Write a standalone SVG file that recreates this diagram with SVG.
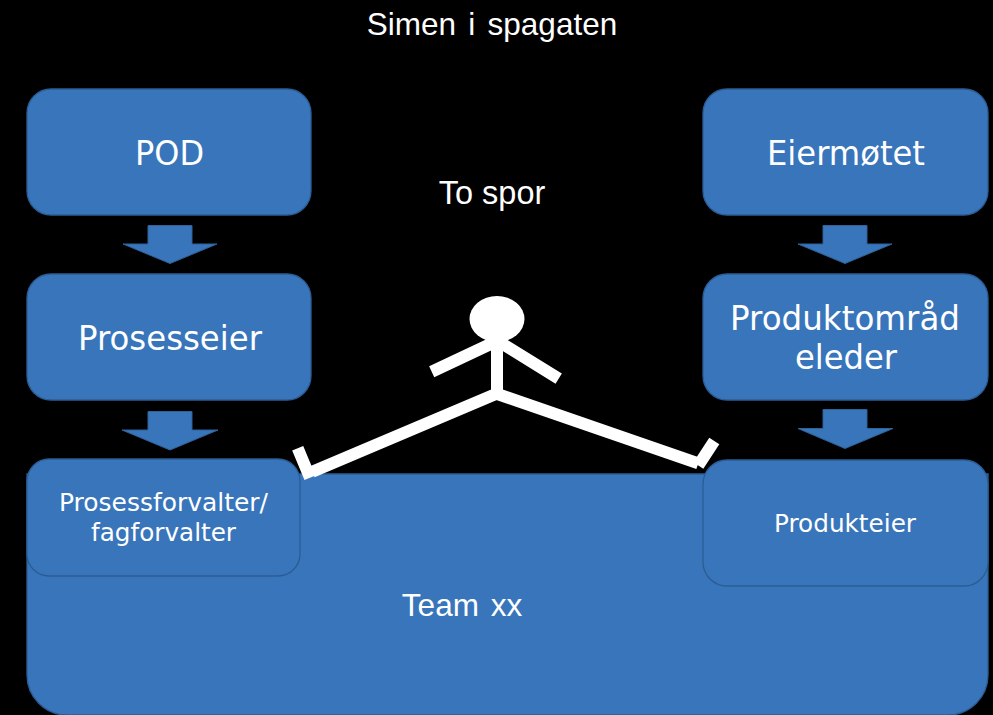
<svg xmlns="http://www.w3.org/2000/svg" width="993" height="715" viewBox="0 0 993 715">
<style>
.b{fill:#3875bb;stroke:#2b5d94;stroke-width:1.3}
.a{fill:#3875bb;stroke:#2f6299;stroke-width:1}
.t{fill:#fff;font-family:"DejaVu Sans",Verdana,sans-serif;text-anchor:middle}
.h{fill:#fff;font-family:"Liberation Sans",Arial,sans-serif;text-anchor:middle}
.s{fill:none;stroke:#fff;stroke-width:12}
</style>
<rect width="993" height="715" fill="#000"/>
<g id="title"><text class="h" x="492" y="34.500" font-size="31.500" word-spacing="3.500">Simen i spagaten</text></g>
<g id="spor"><text class="h" x="492" y="204" font-size="32.500">To spor</text></g>
<g id="team"><path class="b" d="M27 474H988V675a40 40 0 0 1-40 40H67a40 40 0 0 1-40-40Z"/><text class="h" x="462" y="616" font-size="31.500" word-spacing="3">Team xx</text></g>
<g id="pod"><rect class="b" x="27" y="89" width="284" height="126" rx="24"/><text class="t" x="169.500" y="165" font-size="33" textLength="69" lengthAdjust="spacingAndGlyphs">POD</text></g>
<g id="prosesseier"><rect class="b" x="27" y="274" width="284" height="126" rx="24"/><text class="t" x="170" y="350" font-size="33" textLength="184" lengthAdjust="spacingAndGlyphs">Prosesseier</text></g>
<g id="forvalter"><rect class="b" x="27" y="459" width="273" height="117" rx="22"/><text class="t" x="163.500" y="511" font-size="25" textLength="209" lengthAdjust="spacingAndGlyphs">Prosessforvalter/</text><text class="t" x="163.500" y="541" font-size="25" textLength="145" lengthAdjust="spacingAndGlyphs">fagforvalter</text></g>
<g id="eiermotet"><rect class="b" x="703" y="89" width="285" height="126" rx="24"/><text class="t" x="846" y="165" font-size="33" textLength="158" lengthAdjust="spacingAndGlyphs">Eiermøtet</text></g>
<g id="produktomrade"><rect class="b" x="703" y="274" width="285" height="126" rx="24"/><text class="t" x="845" y="330" font-size="33" textLength="230" lengthAdjust="spacingAndGlyphs">Produktområd</text><text class="t" x="846" y="369" font-size="33" textLength="102" lengthAdjust="spacingAndGlyphs">eleder</text></g>
<g id="produkteier"><rect class="b" x="703" y="460" width="285" height="126" rx="24"/><text class="t" x="845" y="532" font-size="25" textLength="142" lengthAdjust="spacingAndGlyphs">Produkteier</text></g>
<g id="connectors">
<path class="a" d="M148 225.500H192V244H217L170 263.500L123 244H148Z"/>
<path class="a" d="M148 411.500H192V430H218L170 450L122 430H148Z"/>
<path class="a" d="M823 225.500H867V244H892L845 263.500L798 244H823Z"/>
<path class="a" d="M823 409.500H867V428.500H893L845 448.500L798 428.500H823Z"/>
</g>
<g id="figure">
<ellipse cx="497" cy="319" rx="27.500" ry="23" fill="#fff"/>
<path class="s" d="M497 338V394M497 341L431.700 371.700M497 340.500L558.700 378.700M497 393.500L312.300 471.700M496 393.500L698.300 463.300M297.700 448.300L310 477.700M714.300 441L698.300 465.500"/>
</g>
</svg>
